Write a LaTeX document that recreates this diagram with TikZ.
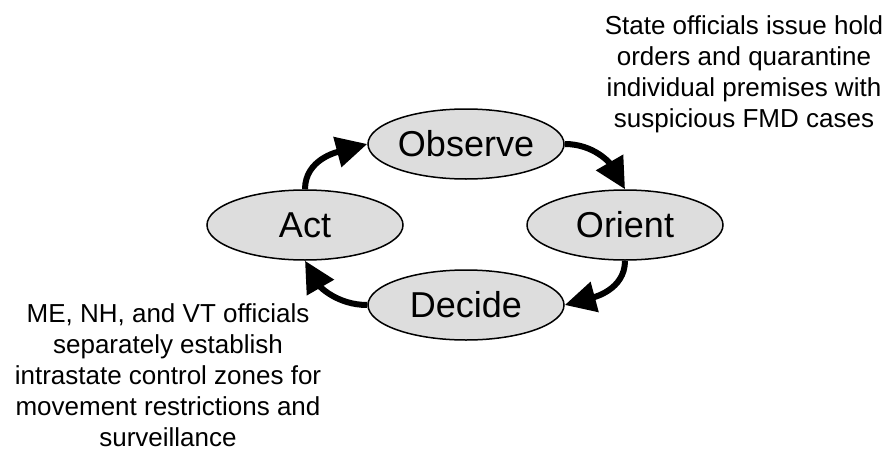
\documentclass[tikz,border=0pt]{standalone}
\usepackage{fontspec}
\setmainfont{Liberation Sans}
\usetikzlibrary{shapes.geometric,arrows.meta}

\tikzset{
  phase/.style={ellipse, draw=black, line width=1.5pt, fill=phasegray,
    minimum width=196pt, minimum height=70pt, inner sep=0pt,
    font=\fontsize{36}{40}\selectfont},
  flow/.style={line width=6pt, -{Triangle[length=31pt,width=30pt]}},
  note/.style={align=center, inner sep=0pt, font=\fontsize{26}{31}\selectfont}
}
\definecolor{phasegray}{RGB}{221,221,221}

\begin{document}
\begin{tikzpicture}[x=1pt,y=-1pt]
  \useasboundingbox (0,0) rectangle (890,452);

  % the four phases of the cycle
  \node[phase] (obs) at (466,144) {Observe};
  \node[phase] (ori) at (625,225) {Orient};
  \node[phase] (dec) at (466,305) {Decide};
  \node[phase] (act) at (305,225) {Act};

  % clockwise arrows between phases
  \draw[flow] (act.north) to[out=90,in=195] (obs.west);
  \draw[flow] (obs.east) to[out=0,in=120] (ori.north);
  \draw[flow] (ori.south) to[out=-90,in=15] (dec.east);
  \draw[flow] (dec.west) to[out=180,in=-60] (act.south);

  % annotations
  \node[note, anchor=north] (hold) at (744,15)
    {State officials issue hold\\orders and quarantine\\individual premises with\\suspicious FMD cases};
  \node[note, anchor=north] (zones) at (168,303)
    {ME, NH, and VT officials\\separately establish\\intrastate control zones for\\movement restrictions and\\surveillance};
\end{tikzpicture}
\end{document}
